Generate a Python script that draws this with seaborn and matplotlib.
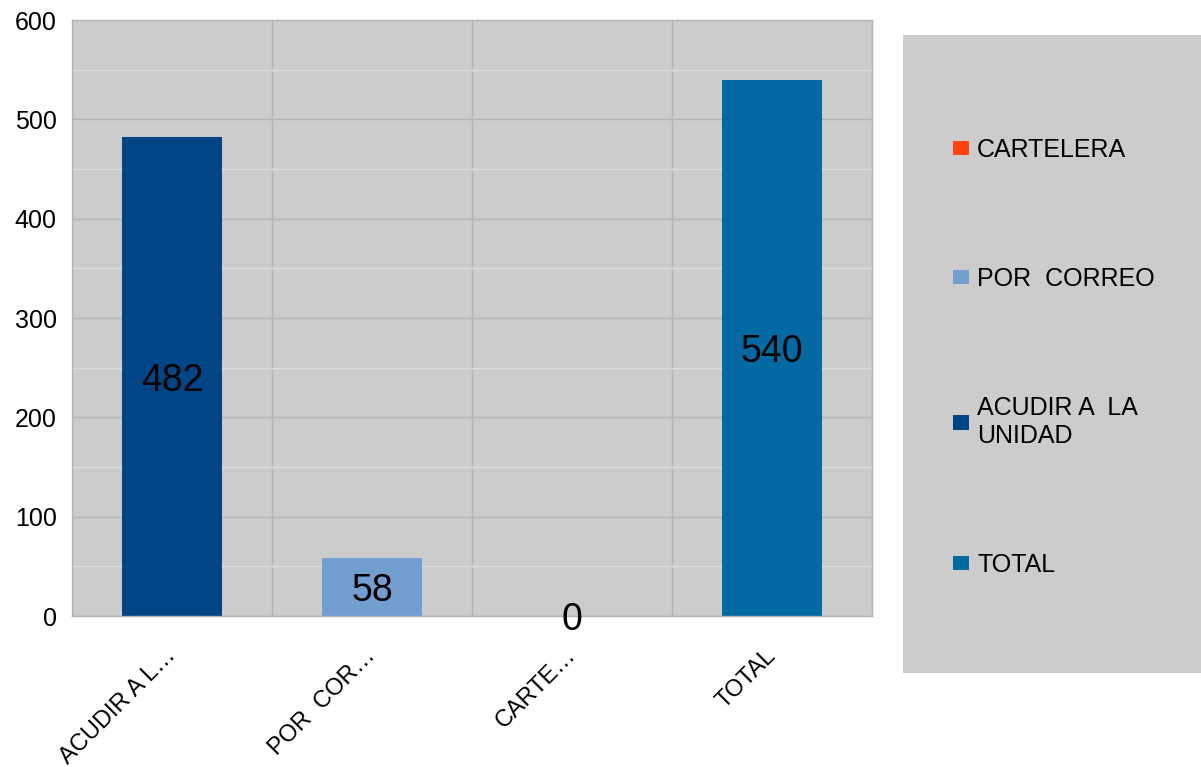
import matplotlib
matplotlib.use("Agg")
import matplotlib.pyplot as plt
import matplotlib.patches as mpatches
from matplotlib.ticker import MultipleLocator
import seaborn as sns
import pandas as pd

# ── data ──
categories = ["ACUDIR A  LA UNIDAD", "POR  CORREO", "CARTELERA", "TOTAL"]
tick_labels = ["ACUDIR A L…", "POR  COR…", "CARTE…", "TOTAL"]
values = [482, 58, 0, 540]
colors = ["#004586", "#729fcf", "#ff420e", "#0369a3"]
legend_order = ["CARTELERA", "POR  CORREO", "ACUDIR A  LA UNIDAD", "TOTAL"]
legend_text = ["CARTELERA", "POR  CORREO", "ACUDIR A  LA\nUNIDAD", "TOTAL"]

df = pd.DataFrame({"cat": categories, "val": values})
palette = dict(zip(categories, colors))

sns.set_style("white")
plt.rcParams["font.family"] = ["Liberation Sans", "DejaVu Sans"]
plt.rcParams["text.color"] = "black"

fig = plt.figure(figsize=(12.01, 7.67), dpi=100)
ax = fig.add_axes([72 / 1201, 1 - 616 / 767, 800 / 1201, 596 / 767])
ax.set_facecolor("#cccccc")

sns.barplot(data=df, x="cat", y="val", hue="cat", palette=palette,
            width=0.5, saturation=1, legend=False, linewidth=0,
            edgecolor="none", ax=ax)

# data labels in the middle of each bar
for i, v in enumerate(values):
    ax.text(i, v / 2, str(v), ha="center", va="center_baseline",
            fontsize=27, color="black")

# axes
ax.set_xlim(-0.5, 3.5)
ax.set_ylim(0, 600)
ax.set_xlabel("")
ax.set_ylabel("")

grid_c = "#b3b3b3"
ax.yaxis.set_major_locator(MultipleLocator(100))
ax.yaxis.set_minor_locator(MultipleLocator(50))
ax.grid(axis="y", which="major", color=grid_c, lw=1)
ax.grid(axis="y", which="minor", color="#dddddd", lw=1)
ax.set_axisbelow(True)

# category boundaries as major x ticks, labels on minor ticks at centres
ax.set_xticks([-0.5, 0.5, 1.5, 2.5, 3.5])
ax.set_xticklabels([])
ax.set_xticks(range(len(categories)), minor=True)
ax.set_xticklabels(tick_labels, minor=True, rotation=45, ha="right",
                   va="center", rotation_mode="anchor", fontsize=17)
ax.grid(axis="x", which="major", color=grid_c, lw=1)
ax.tick_params(axis="x", which="major", length=8, color=grid_c, width=1)
ax.tick_params(axis="x", which="minor", length=0, pad=26, labelcolor="black")
ax.tick_params(axis="y", which="major", length=8, color=grid_c, width=1,
               labelsize=18, pad=3, labelcolor="black")
ax.tick_params(axis="y", which="minor", length=0)

for s in ax.spines.values():
    s.set_color(grid_c)
    s.set_linewidth(1)

# legend panel
fig.patches.append(mpatches.Rectangle((903 / 1201, 1 - 673 / 767),
                                      0.3, (673 - 35) / 767,
                                      transform=fig.transFigure,
                                      facecolor="#cccccc", edgecolor="none",
                                      zorder=0))
handles = [mpatches.Patch(facecolor=palette[c], edgecolor="none") for c in legend_order]
fig.legend(handles, legend_text, loc="upper left",
           bbox_to_anchor=(953 / 1201, 1 - 138 / 767), frameon=False,
           fontsize=18, handlelength=0.65, handleheight=0.5,
           handletextpad=0.32, labelspacing=4.2, borderpad=0,
           borderaxespad=0)

plt.savefig("out.png", dpi=100)
